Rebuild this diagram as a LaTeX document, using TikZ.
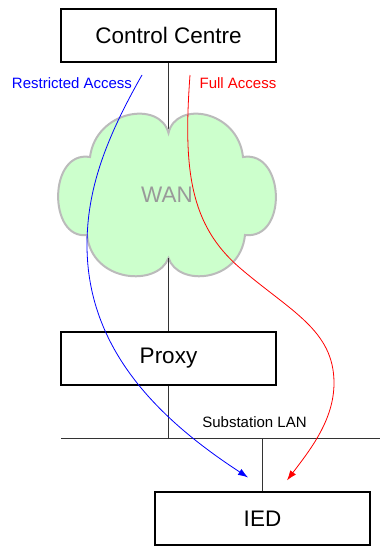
\documentclass[tikz,border=0pt]{standalone}
\usepackage{fontspec}
\setmainfont{Liberation Sans}
\usetikzlibrary{arrows.meta}
\definecolor{cloudfill}{HTML}{CCFFCC}
\definecolor{cloudline}{HTML}{BBBBBB}

\begin{document}
\begin{tikzpicture}[x=1pt, y=-1pt,
        box/.style={draw, line width=1.2pt, minimum width=215pt, minimum height=53pt, inner sep=0pt, font=\fontsize{22.5}{27}\selectfont},
        small/.style={font=\fontsize{15}{18}\selectfont},
        wire/.style={line width=0.9pt, black!80},
        access/.style={line width=0.8pt, -{Latex[length=10pt, width=7pt]}}]
    \useasboundingbox (0,0) rectangle (380,546);

    \node[box] (cc) at (168.5,35.5) {Control Centre};
    \node[box] (proxy) at (168.5,358.5) {Proxy};
    \node[box] (ied) at (262.5,518.5) {IED};

    \coordinate (wan-top) at (168.5,133);
    \coordinate (wan-bot) at (168.5,258);
    \coordinate (lan-w) at (61,438);
    \coordinate (lan-e) at (380,438);
    \coordinate (ra-start) at (142,75);
    \coordinate (fa-start) at (190,75);

    \draw[wire] (cc.south) -- (wan-top);
    \draw[line width=2pt, draw=cloudline, fill=cloudfill] (wan-top)
        .. controls (176,100) and (238,110) .. (243,157)
        .. controls (285,150) and (288,240) .. (245,235)
        .. controls (240,283) and (178,287) .. (wan-bot)
        .. controls (158,287) and (92,283) .. (87,235)
        .. controls (48,240) and (48,150) .. (90,157)
        .. controls (96,110) and (160,100) .. cycle;
    \node[text=black!40, font=\fontsize{22.5}{27}\selectfont] (wan) at (167,195) {WAN};
    \draw[wire] (wan-bot) -- (proxy.north);
    \draw[wire] (proxy.south) -- (proxy.south |- lan-w);
    \draw[wire] (lan-w) -- (lan-e);
    \draw[wire] (ied.north) -- (ied.north |- lan-w);

    \node[small, text=blue] (ra) at (72,83.5) {Restricted Access};
    \node[small, text=red] (fa) at (238,83.5) {Full Access};
    \node[small] (lan) at (254.5,422.5) {Substation LAN};

    \draw[access, blue] (ra-start)
        .. controls (105,140) and (87,190) .. (87,245)
        .. controls (87,350) and (160,420) .. ([shift={(-14.5,-14)}]ied.north);
    \draw[access, red] (fa-start)
        .. controls (183,170) and (190,225) .. (240,268)
        .. controls (290,311) and (334,330) .. (334,383)
        .. controls (334,420) and (310,450) .. ([shift={(24.5,-11)}]ied.north);
\end{tikzpicture}
\end{document}
